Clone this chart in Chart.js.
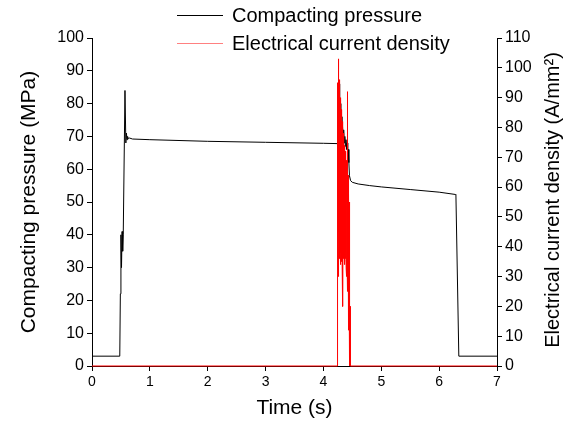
<!DOCTYPE html>
<html>
<head>
<meta charset="utf-8">
<script src="https://cdn.jsdelivr.net/npm/chart.js@4/dist/chart.umd.min.js"></script>
<style>
  html, body { margin: 0; padding: 0; background: #fff; }
  #wrap { width: 571px; height: 425px; }
</style>
</head>
<body>
<div id="wrap"><canvas id="chart1" width="571" height="425"></canvas></div>
<script>
// compacting pressure (MPa) vs time (s)
var pressure_t = [0, 0.48, 0.49, 0.5, 0.51, 0.52, 0.53, 0.54, 0.57, 0.585, 0.595, 0.605, 0.615, 0.63, 0.65, 0.7,
  1.0, 2.0, 3.0, 4.0, 4.25, 4.26, 4.27, 4.28, 4.29, 4.30, 4.31, 4.32, 4.33, 4.34, 4.35, 4.36, 4.37, 4.38,
  4.39, 4.40, 4.41, 4.42, 4.43, 4.44, 4.45, 4.47, 4.5, 4.6, 4.8, 5.0, 5.5, 6.0, 6.28, 6.29, 6.34, 7.0]
var pressure_v = [3, 3, 22, 40, 30, 41, 35, 40, 84, 68, 71, 69, 70, 69.3, 69.5, 69.2,
  69, 68.5, 68.2, 67.9, 67.8, 80, 86, 78, 80, 74, 76, 71, 73, 70, 72, 68, 70, 67,
  69, 66, 68, 64, 66, 62, 58, 56.5, 56, 55.5, 55, 54.6, 53.8, 53, 52.3, 52.2, 3, 3]

// electrical current density (A/mm2) vs time (s)
var current_t = [0,
  4.235, 4.2375, 4.24, 4.2425, 4.245, 4.2475, 4.25, 4.2525, 4.255, 4.2575,
  4.26, 4.2625, 4.265, 4.2675, 4.27, 4.2725, 4.275, 4.2775, 4.28, 4.2825,
  4.285, 4.2875, 4.29, 4.2925, 4.295, 4.2975, 4.30, 4.3025, 4.305, 4.3075,
  4.31, 4.3125, 4.315, 4.3175, 4.32, 4.3225, 4.325, 4.3275, 4.33, 4.3325,
  4.335, 4.3375, 4.34, 4.3425, 4.345, 4.3475, 4.35, 4.3525, 4.355, 4.3575,
  4.36, 4.3625, 4.365, 4.3675, 4.37, 4.3725, 4.375, 4.3775, 4.38, 4.3825,
  4.385, 4.3875, 4.39, 4.3925, 4.395, 4.3975, 4.40, 4.4025, 4.405, 4.4075,
  4.41, 4.4125, 4.415, 4.4175, 4.42, 4.4225, 4.425, 4.4275, 4.43, 4.4325,
  4.435, 4.4375, 4.44, 4.4425, 4.445, 4.4475, 4.45, 4.4525, 4.455, 4.4575,
  4.46, 4.4625, 4.465,
  7.0]
var current_v = [0,
  0, 0, 60, 2, 85, 20, 95, 40, 103, 35,
  100, 30, 98, 45, 96, 38, 95, 42, 93, 36,
  92, 40, 90, 34, 89, 44, 88, 38, 86, 40,
  85, 35, 84, 42, 83, 36, 82, 40, 80, 33,
  80, 20, 78, 38, 77, 42, 76, 36, 75, 40,
  74, 34, 73, 38, 72, 35, 72, 40, 71, 36,
  70, 38, 70, 33, 69, 37, 68, 30, 67, 36,
  66, 25, 65, 34, 92, 32, 64, 36, 62, 12,
  60, 30, 58, 34, 55, 5, 50, 30, 45, 0,
  20, 0, 0,
  0]

var xTicks = [0, 1, 2, 3, 4, 5, 6, 7]
var leftTicks = [0, 10, 20, 30, 40, 50, 60, 70, 80, 90, 100]
var rightTicks = [0, 10, 20, 30, 40, 50, 60, 70, 80, 90, 100, 110]

var seriesNames = ['Compacting pressure', 'Electrical current density']
var seriesColors = ['#000000', '#ff0000']
var legendColors = ['#000000', '#ff8080']

var FONT = "'Liberation Sans', Arial, sans-serif"

var legendPlugin = {
  id: 'legendAndTitle',
  beforeDraw: function(chart) {
    var c = chart.ctx
    c.save()
    c.fillStyle = '#fff'
    c.fillRect(0, 0, chart.width, chart.height)
    c.restore()
  },
  afterDraw: function(chart) {
    var c = chart.ctx
    c.save()
    c.font = '20px ' + FONT
    c.textBaseline = 'middle'
    for (var i = 0; i < seriesNames.length; i++) {
      var y = 15 + i * 28
      c.strokeStyle = legendColors[i]
      c.lineWidth = 1
      c.beginPath()
      c.moveTo(177, y + 0.5)
      c.lineTo(223, y + 0.5)
      c.stroke()
      c.fillStyle = '#000'
      c.fillText(seriesNames[i], 232, y + 1)
    }
    // right axis title, reading bottom to top
    c.translate(553, 200)
    c.rotate(-Math.PI / 2)
    c.textAlign = 'center'
    c.fillText('Electrical current density (A/mm\u00B2)', 0, 0)
    c.restore()
  }
}

new Chart(document.getElementById('chart1'), {
  type: 'line',
  data: {
    datasets: [
      {
        label: seriesNames[0],
        data: pressure_t.map((t, i) => ({x: t, y: pressure_v[i]})),
        borderColor: seriesColors[0],
        borderWidth: 1,
        pointRadius: 0,
        yAxisID: 'y',
        clip: 4,
        order: 1
      },
      {
        label: seriesNames[1],
        data: current_t.map((t, i) => ({x: t, y: current_v[i]})),
        borderColor: seriesColors[1],
        borderWidth: 1,
        pointRadius: 0,
        yAxisID: 'y1',
        clip: 4,
        order: 0
      }
    ]
  },
  options: {
    responsive: false,
    animation: false,
    layout: { padding: { top: 38, left: 0, right: 0, bottom: 0 } },
    plugins: { legend: { display: false }, tooltip: { enabled: false } },
    scales: {
      x: {
        type: 'linear',
        min: 0, max: 7,
        afterBuildTicks: function(s) { s.ticks = xTicks.map(v => ({value: v})) },
        afterFit: function(s) { s.height = 59 },
        grid: { drawOnChartArea: false, color: '#000', tickLength: 5 },
        border: { color: '#000', width: 1 },
        ticks: { color: '#000', font: { family: FONT, size: 14 }, padding: 3 },
        title: { display: true, text: 'Time (s)', color: '#000', font: { family: FONT, size: 21 }, padding: { top: 0, bottom: 4 } }
      },
      y: {
        position: 'left',
        min: 0, max: 100,
        afterBuildTicks: function(s) { s.ticks = leftTicks.map(v => ({value: v})) },
        afterFit: function(s) { s.width = 92 },
        grid: { drawOnChartArea: false, color: '#000', tickLength: 5 },
        border: { color: '#000', width: 1 },
        ticks: { color: '#000', font: { family: FONT, size: 16 }, padding: 3 },
        title: { display: true, text: 'Compacting pressure (MPa)', color: '#000', font: { family: FONT, size: 21 }, padding: { top: 17, bottom: 0 } }
      },
      y1: {
        position: 'right',
        min: 0, max: 110,
        afterBuildTicks: function(s) { s.ticks = rightTicks.map(v => ({value: v})) },
        afterFit: function(s) { s.width = 74 },
        grid: { drawOnChartArea: false, color: '#000', tickLength: 5 },
        border: { color: '#000', width: 1 },
        ticks: { color: '#000', font: { family: FONT, size: 16 }, padding: 3 }
      }
    }
  },
  plugins: [legendPlugin]
})
</script>
</body>
</html>
